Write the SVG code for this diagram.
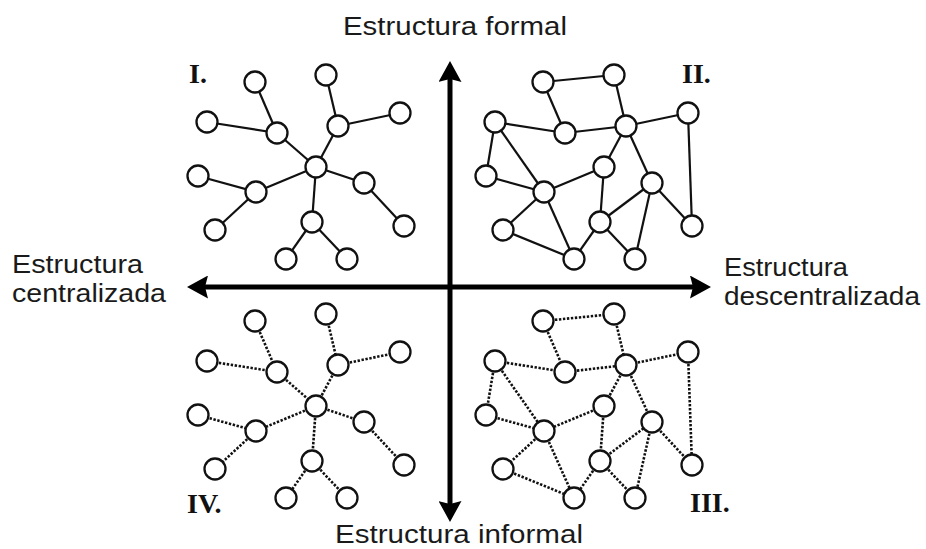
<svg xmlns="http://www.w3.org/2000/svg" width="926" height="549" viewBox="0 0 926 549">
<style>
.bg{fill:#ffffff}
.n{fill:#ffffff;stroke:#111;stroke-width:2.3}
.e{stroke:#111;stroke-width:2.2;fill:none}
.d{stroke:#111;stroke-width:2.6;fill:none;stroke-dasharray:2.4 1.6}
.ax{stroke:#000;stroke-width:5;fill:none}
.t{font-family:"Liberation Sans",Arial,sans-serif;font-size:25.5px;fill:#1a1a1a}
.q{font-family:"Liberation Serif","Times New Roman",serif;font-size:28px;font-weight:bold;fill:#111}
</style>
<defs>
<marker id="ah" markerUnits="userSpaceOnUse" markerWidth="21" markerHeight="23" viewBox="0 0 21 23" refX="10" refY="11.5" orient="auto-start-reverse">
<path d="M0,0 L21,11.5 L0,23 L3,11.5 z" fill="#000"/>
</marker>
</defs>
<rect class="bg" x="0" y="0" width="926" height="549"/>

<g id="axes">
<line class="ax" x1="450" y1="72" x2="450" y2="511" marker-start="url(#ah)" marker-end="url(#ah)"/>
<line class="ax" x1="198" y1="287" x2="700" y2="287" marker-start="url(#ah)" marker-end="url(#ah)"/>
</g>

<g id="connectors">
<g id="edges-I">
<line class="e" x1="255" y1="82" x2="277" y2="133"/>
<line class="e" x1="207" y1="122" x2="277" y2="133"/>
<line class="e" x1="277" y1="133" x2="316" y2="167"/>
<line class="e" x1="326" y1="75" x2="338" y2="126"/>
<line class="e" x1="338" y1="126" x2="400" y2="113"/>
<line class="e" x1="338" y1="126" x2="316" y2="167"/>
<line class="e" x1="316" y1="167" x2="256" y2="192"/>
<line class="e" x1="198" y1="176" x2="256" y2="192"/>
<line class="e" x1="256" y1="192" x2="215" y2="230"/>
<line class="e" x1="316" y1="167" x2="364" y2="183"/>
<line class="e" x1="364" y1="183" x2="404" y2="226"/>
<line class="e" x1="316" y1="167" x2="312" y2="222"/>
<line class="e" x1="312" y1="222" x2="286" y2="259"/>
<line class="e" x1="312" y1="222" x2="347" y2="259"/>
</g>
<g id="edges-IV">
<line class="d" x1="255" y1="321" x2="277" y2="372"/>
<line class="d" x1="207" y1="361" x2="277" y2="372"/>
<line class="d" x1="277" y1="372" x2="316" y2="406"/>
<line class="d" x1="326" y1="314" x2="338" y2="365"/>
<line class="d" x1="338" y1="365" x2="400" y2="352"/>
<line class="d" x1="338" y1="365" x2="316" y2="406"/>
<line class="d" x1="316" y1="406" x2="256" y2="431"/>
<line class="d" x1="198" y1="415" x2="256" y2="431"/>
<line class="d" x1="256" y1="431" x2="215" y2="469"/>
<line class="d" x1="316" y1="406" x2="364" y2="422"/>
<line class="d" x1="364" y1="422" x2="404" y2="465"/>
<line class="d" x1="316" y1="406" x2="312" y2="461"/>
<line class="d" x1="312" y1="461" x2="286" y2="498"/>
<line class="d" x1="312" y1="461" x2="347" y2="498"/>
</g>
<g id="edges-II">
<line class="e" x1="543" y1="82" x2="614" y2="75"/>
<line class="e" x1="543" y1="82" x2="565" y2="133"/>
<line class="e" x1="614" y1="75" x2="626" y2="126"/>
<line class="e" x1="495" y1="122" x2="565" y2="133"/>
<line class="e" x1="565" y1="133" x2="626" y2="126"/>
<line class="e" x1="626" y1="126" x2="688" y2="113"/>
<line class="e" x1="688" y1="113" x2="692" y2="226"/>
<line class="e" x1="495" y1="122" x2="486" y2="176"/>
<line class="e" x1="495" y1="122" x2="544" y2="192"/>
<line class="e" x1="486" y1="176" x2="544" y2="192"/>
<line class="e" x1="626" y1="126" x2="604" y2="167"/>
<line class="e" x1="626" y1="126" x2="652" y2="183"/>
<line class="e" x1="604" y1="167" x2="544" y2="192"/>
<line class="e" x1="604" y1="167" x2="600" y2="222"/>
<line class="e" x1="544" y1="192" x2="503" y2="230"/>
<line class="e" x1="544" y1="192" x2="574" y2="259"/>
<line class="e" x1="503" y1="230" x2="574" y2="259"/>
<line class="e" x1="600" y1="222" x2="574" y2="259"/>
<line class="e" x1="600" y1="222" x2="652" y2="183"/>
<line class="e" x1="600" y1="222" x2="635" y2="259"/>
<line class="e" x1="652" y1="183" x2="635" y2="259"/>
<line class="e" x1="652" y1="183" x2="692" y2="226"/>
</g>
<g id="edges-III">
<line class="d" x1="543" y1="321" x2="614" y2="314"/>
<line class="d" x1="543" y1="321" x2="565" y2="372"/>
<line class="d" x1="614" y1="314" x2="626" y2="365"/>
<line class="d" x1="495" y1="361" x2="565" y2="372"/>
<line class="d" x1="565" y1="372" x2="626" y2="365"/>
<line class="d" x1="626" y1="365" x2="688" y2="352"/>
<line class="d" x1="688" y1="352" x2="692" y2="465"/>
<line class="d" x1="495" y1="361" x2="486" y2="415"/>
<line class="d" x1="495" y1="361" x2="544" y2="431"/>
<line class="d" x1="486" y1="415" x2="544" y2="431"/>
<line class="d" x1="626" y1="365" x2="604" y2="406"/>
<line class="d" x1="626" y1="365" x2="652" y2="422"/>
<line class="d" x1="604" y1="406" x2="544" y2="431"/>
<line class="d" x1="604" y1="406" x2="600" y2="461"/>
<line class="d" x1="544" y1="431" x2="503" y2="469"/>
<line class="d" x1="544" y1="431" x2="574" y2="498"/>
<line class="d" x1="503" y1="469" x2="574" y2="498"/>
<line class="d" x1="600" y1="461" x2="574" y2="498"/>
<line class="d" x1="600" y1="461" x2="652" y2="422"/>
<line class="d" x1="600" y1="461" x2="635" y2="498"/>
<line class="d" x1="652" y1="422" x2="635" y2="498"/>
<line class="d" x1="652" y1="422" x2="692" y2="465"/>
</g>
</g>

<g id="nodes-I">
<g id="I-n1"><circle class="n" cx="255" cy="82" r="10.5"/></g>
<g id="I-n2"><circle class="n" cx="326" cy="75" r="10.5"/></g>
<g id="I-n3"><circle class="n" cx="207" cy="122" r="10.5"/></g>
<g id="I-n4"><circle class="n" cx="277" cy="133" r="10.5"/></g>
<g id="I-n5"><circle class="n" cx="338" cy="126" r="10.5"/></g>
<g id="I-n6"><circle class="n" cx="400" cy="113" r="10.5"/></g>
<g id="I-n7"><circle class="n" cx="316" cy="167" r="10.5"/></g>
<g id="I-n8"><circle class="n" cx="198" cy="176" r="10.5"/></g>
<g id="I-n9"><circle class="n" cx="256" cy="192" r="10.5"/></g>
<g id="I-n10"><circle class="n" cx="364" cy="183" r="10.5"/></g>
<g id="I-n11"><circle class="n" cx="215" cy="230" r="10.5"/></g>
<g id="I-n12"><circle class="n" cx="312" cy="222" r="10.5"/></g>
<g id="I-n13"><circle class="n" cx="404" cy="226" r="10.5"/></g>
<g id="I-n14"><circle class="n" cx="286" cy="259" r="10.5"/></g>
<g id="I-n15"><circle class="n" cx="347" cy="259" r="10.5"/></g>
</g>
<g id="nodes-II">
<g id="II-n1"><circle class="n" cx="543" cy="82" r="10.5"/></g>
<g id="II-n2"><circle class="n" cx="614" cy="75" r="10.5"/></g>
<g id="II-n3"><circle class="n" cx="495" cy="122" r="10.5"/></g>
<g id="II-n4"><circle class="n" cx="565" cy="133" r="10.5"/></g>
<g id="II-n5"><circle class="n" cx="626" cy="126" r="10.5"/></g>
<g id="II-n6"><circle class="n" cx="688" cy="113" r="10.5"/></g>
<g id="II-n7"><circle class="n" cx="604" cy="167" r="10.5"/></g>
<g id="II-n8"><circle class="n" cx="486" cy="176" r="10.5"/></g>
<g id="II-n9"><circle class="n" cx="544" cy="192" r="10.5"/></g>
<g id="II-n10"><circle class="n" cx="652" cy="183" r="10.5"/></g>
<g id="II-n11"><circle class="n" cx="503" cy="230" r="10.5"/></g>
<g id="II-n12"><circle class="n" cx="600" cy="222" r="10.5"/></g>
<g id="II-n13"><circle class="n" cx="692" cy="226" r="10.5"/></g>
<g id="II-n14"><circle class="n" cx="574" cy="259" r="10.5"/></g>
<g id="II-n15"><circle class="n" cx="635" cy="259" r="10.5"/></g>
</g>
<g id="nodes-III">
<g id="III-n1"><circle class="n" cx="543" cy="321" r="10.5"/></g>
<g id="III-n2"><circle class="n" cx="614" cy="314" r="10.5"/></g>
<g id="III-n3"><circle class="n" cx="495" cy="361" r="10.5"/></g>
<g id="III-n4"><circle class="n" cx="565" cy="372" r="10.5"/></g>
<g id="III-n5"><circle class="n" cx="626" cy="365" r="10.5"/></g>
<g id="III-n6"><circle class="n" cx="688" cy="352" r="10.5"/></g>
<g id="III-n7"><circle class="n" cx="604" cy="406" r="10.5"/></g>
<g id="III-n8"><circle class="n" cx="486" cy="415" r="10.5"/></g>
<g id="III-n9"><circle class="n" cx="544" cy="431" r="10.5"/></g>
<g id="III-n10"><circle class="n" cx="652" cy="422" r="10.5"/></g>
<g id="III-n11"><circle class="n" cx="503" cy="469" r="10.5"/></g>
<g id="III-n12"><circle class="n" cx="600" cy="461" r="10.5"/></g>
<g id="III-n13"><circle class="n" cx="692" cy="465" r="10.5"/></g>
<g id="III-n14"><circle class="n" cx="574" cy="498" r="10.5"/></g>
<g id="III-n15"><circle class="n" cx="635" cy="498" r="10.5"/></g>
</g>
<g id="nodes-IV">
<g id="IV-n1"><circle class="n" cx="255" cy="321" r="10.5"/></g>
<g id="IV-n2"><circle class="n" cx="326" cy="314" r="10.5"/></g>
<g id="IV-n3"><circle class="n" cx="207" cy="361" r="10.5"/></g>
<g id="IV-n4"><circle class="n" cx="277" cy="372" r="10.5"/></g>
<g id="IV-n5"><circle class="n" cx="338" cy="365" r="10.5"/></g>
<g id="IV-n6"><circle class="n" cx="400" cy="352" r="10.5"/></g>
<g id="IV-n7"><circle class="n" cx="316" cy="406" r="10.5"/></g>
<g id="IV-n8"><circle class="n" cx="198" cy="415" r="10.5"/></g>
<g id="IV-n9"><circle class="n" cx="256" cy="431" r="10.5"/></g>
<g id="IV-n10"><circle class="n" cx="364" cy="422" r="10.5"/></g>
<g id="IV-n11"><circle class="n" cx="215" cy="469" r="10.5"/></g>
<g id="IV-n12"><circle class="n" cx="312" cy="461" r="10.5"/></g>
<g id="IV-n13"><circle class="n" cx="404" cy="465" r="10.5"/></g>
<g id="IV-n14"><circle class="n" cx="286" cy="498" r="10.5"/></g>
<g id="IV-n15"><circle class="n" cx="347" cy="498" r="10.5"/></g>
</g>

<g id="labels">
<text class="q" x="189" y="83">I.</text>
<text class="q" x="682" y="83">II.</text>
<text class="q" x="690" y="512">III.</text>
<text class="q" x="187" y="513">IV.</text>
<text class="t" x="343" y="35" textLength="224" lengthAdjust="spacingAndGlyphs">Estructura formal</text>
<text class="t" x="335" y="543" textLength="248" lengthAdjust="spacingAndGlyphs">Estructura informal</text>
<text class="t" x="12" y="272.5" textLength="131" lengthAdjust="spacingAndGlyphs">Estructura</text>
<text class="t" x="12" y="301.5" textLength="154" lengthAdjust="spacingAndGlyphs">centralizada</text>
<text class="t" x="724" y="275.5" textLength="124" lengthAdjust="spacingAndGlyphs">Estructura</text>
<text class="t" x="724" y="304.5" textLength="196" lengthAdjust="spacingAndGlyphs">descentralizada</text>
</g>
</svg>
